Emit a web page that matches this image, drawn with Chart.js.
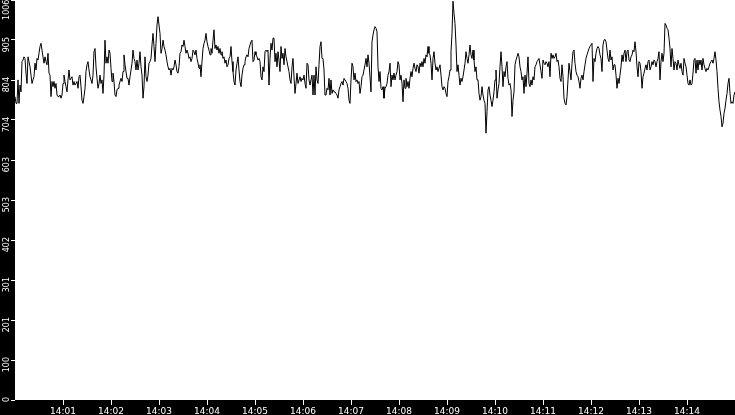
<!DOCTYPE html>
<html>
<head>
<meta charset="utf-8">
<script src="https://cdn.jsdelivr.net/npm/chart.js@4/dist/chart.umd.min.js"></script>
<style>
html,body{margin:0;padding:0;background:#000;}
#wrap{width:735px;height:415px;}
</style>
</head>
<body>
<div id="wrap"><canvas id="c" width="735" height="415"></canvas></div>
<script>
// Sample interval of the series (seconds after 14:00:00)
const sampleStepSeconds = 1.25;

// Series values, 14:00:00 - 14:02:29
const valuesPart1 = [
  763,746,746,805,746,792,775,851,855,863, 859,822,796,863,851,838,817,796,805,813,
  847,830,859,855,872,889,897,880,863,847, 863,851,843,872,822,817,763,801,788,801,
  784,796,767,763,763,767,759,767,796,817, 801,788,775,805,830,805,809,813,792,801,
  792,796,801,784,813,817,788,754,746,763, 784,826,843,851,830,813,805,796,817,876,
  884,838,809,784,796,817,796,805,771,817, 905,847,863,847,880,872,834,801,822,801,
  767,763,780,784,792,801,809,801,826,868, 843,826,809,809,792,813,830,847,880,859
];
// 14:02:30 - 14:04:59
const valuesPart2 = [
  851,830,855,830,847,876,838,817,759,788, 863,813,801,817,847,851,859,893,922,889,
  851,897,943,964,943,922,872,884,905,889, 880,868,851,838,830,834,817,834,830,838,
  855,843,826,822,838,872,876,893,889,905, 889,872,880,872,859,863,851,859,880,876,
  868,880,859,847,834,843,813,851,884,897, 905,922,901,889,880,868,884,872,905,931,
  884,893,880,889,872,884,868,876,859,863, 847,855,838,843,859,863,889,851,826,801,
  792,830,847,863,830,801,788,817,834,843, 851,863,868,863,884,893,901,905,851,855
];
// 14:05:00 - 14:07:29
const valuesPart3 = [
  876,868,863,855,859,851,813,805,838,826, 876,880,876,880,792,859,897,880,910,910,
  851,872,838,876,855,826,889,859,872,843, 884,863,851,838,826,805,796,838,859,813,
  771,796,822,796,805,813,801,809,805,817, 796,784,847,843,805,792,805,817,767,817,
  767,838,805,796,843,889,901,859,859,830, 767,767,784,780,809,767,805,771,780,775,
  775,771,767,759,780,788,796,801,792,809, 805,801,796,784,754,746,805,847,838,805,
  822,801,805,796,801,771,788,813,817,830, 843,859,838,868,847,813,775,901,918,931
];
// 14:07:30 - 14:09:59
const valuesPart4 = [
  939,935,926,838,801,826,784,780,788,759, 784,788,796,817,826,847,788,817,805,822,
  805,817,826,851,843,805,817,796,750,805, 784,809,788,801,784,809,826,813,834,847,
  834,826,843,838,822,847,838,851,838,859, 847,868,863,889,872,868,847,805,859,876,
  847,830,838,826,834,843,817,788,780,788, 784,771,763,801,813,830,876,922,1003,972,
  947,893,826,843,817,792,809,801,813,830, 847,876,859,847,868,893,868,859,880,855,
  826,838,805,805,771,754,763,788,767,754, 746,671,725,780,788,767,754,738,754,775
];
// 14:10:00 - 14:12:29
const valuesPart5 = [
  805,830,759,780,796,838,876,838,788,826, 813,838,851,809,792,796,780,713,754,775,
  843,855,863,872,863,838,826,805,813,771, 817,788,822,863,796,788,805,792,813,805,
  838,843,851,855,859,843,826,809,855,847, 843,851,847,838,851,813,872,859,868,859,
  863,872,851,855,838,809,801,843,813,759, 746,742,763,805,847,826,805,847,876,880,
  847,826,817,813,801,784,809,817,805,826, 843,859,868,876,884,889,893,897,801,859,
  851,872,884,889,884,868,859,826,893,905, 907,901,880,859,851,880,855,863,830,843
];
// 14:12:30 - 14:15:00
const valuesPart6 = [
  843,817,784,809,796,817,838,868,851,872, 880,851,876,880,855,851,863,868,880,876,
  901,876,838,813,851,847,826,784,813,822, 834,843,830,851,855,830,838,851,843,855,
  851,838,851,859,876,805,851,872,851,872, 947,943,935,931,910,884,838,884,859,830,
  851,847,830,855,843,834,847,826,817,859, 847,838,817,796,792,805,792,796,822,855,
  859,822,855,830,855,843,855,830,859,843, 834,826,834,830,838,847,851,855,847,859,
  876,855,826,784,750,729,713,687,696,721, 734,754,771,796,809,771,746,750,746,767,
  775
];

// X axis ticks (seconds after 14:00:00) and their labels
const xTickSeconds = [60,120,180,240,300,360,420,480,540,600,660,720,780,840];
const xTickLabels = ['14:01','14:02','14:03','14:04','14:05','14:06','14:07','14:08','14:09','14:10','14:11','14:12','14:13','14:14'];
const xRange = [0, 900];

// Y axis ticks and their labels
const yTickValues = [0,100.6,201.2,301.8,402.4,503,603.6,704.2,804.8,905.4,1006];
const yTickLabels = ['0','100','201','301','402','503','603','704','804','905','1006'];
const yRange = [0, 1006];

const seriesValues = [].concat(valuesPart1, valuesPart2, valuesPart3, valuesPart4, valuesPart5, valuesPart6);
const points = seriesValues.map((v, i) => ({ x: i * sampleStepSeconds, y: v }));

const bgPlugin = {
  id: 'bg',
  beforeDraw(chart) {
    const { ctx, chartArea: a, width, height } = chart;
    ctx.save();
    ctx.fillStyle = '#000';
    ctx.fillRect(0, 0, width, height);
    ctx.fillStyle = '#fff';
    ctx.fillRect(a.left, a.top, a.right - a.left, a.bottom - a.top);
    ctx.restore();
  }
};

new Chart(document.getElementById('c'), {
  type: 'line',
  data: {
    datasets: [{
      data: points,
      borderColor: '#000',
      borderWidth: 1,
      pointRadius: 0,
      tension: 0,
      fill: false
    }]
  },
  options: {
    responsive: false,
    devicePixelRatio: 1,
    animation: false,
    layout: { padding: 0 },
    plugins: { legend: { display: false }, tooltip: { enabled: false } },
    scales: {
      x: {
        type: 'linear',
        min: xRange[0],
        max: xRange[1],
        afterBuildTicks: s => { s.ticks = xTickSeconds.map(v => ({ value: v })); },
        afterFit: s => { s.height = 15; s.paddingLeft = 0; s.paddingRight = 0; s.paddingTop = 0; s.paddingBottom = 0; },
        grid: { drawOnChartArea: false, drawTicks: true, tickLength: 5, tickColor: '#fff', color: '#fff' },
        border: { display: false },
        ticks: {
          color: '#fff',
          padding: 1,
          autoSkip: false,
          maxRotation: 0,
          minRotation: 0,
          font: { family: 'DejaVu Sans', size: 9 },
          callback: (v) => { const k = xTickSeconds.indexOf(v); return k >= 0 ? xTickLabels[k] : ''; }
        }
      },
      y: {
        type: 'linear',
        min: yRange[0],
        max: yRange[1],
        afterBuildTicks: s => { s.ticks = yTickValues.map(v => ({ value: v })); },
        afterFit: s => { s.width = 15; s.paddingTop = 0; s.paddingBottom = 0; s.paddingLeft = 0; s.paddingRight = 0; },
        grid: { drawOnChartArea: false, drawTicks: true, tickLength: 4, tickColor: '#fff', color: '#fff' },
        border: { display: false },
        ticks: {
          color: '#fff',
          padding: 4,
          autoSkip: false,
          minRotation: 90,
          maxRotation: 90,
          labelOffset: -3,
          font: { family: 'DejaVu Sans', size: 8 },
          callback: (v) => {
            const k = yTickValues.indexOf(v);
            if (k < 0) return '';
            // keep the topmost label inside the canvas
            return k === yTickValues.length - 1 ? yTickLabels[k] + ' ' : yTickLabels[k];
          }
        }
      }
    }
  },
  plugins: [bgPlugin]
});
</script>
</body>
</html>
